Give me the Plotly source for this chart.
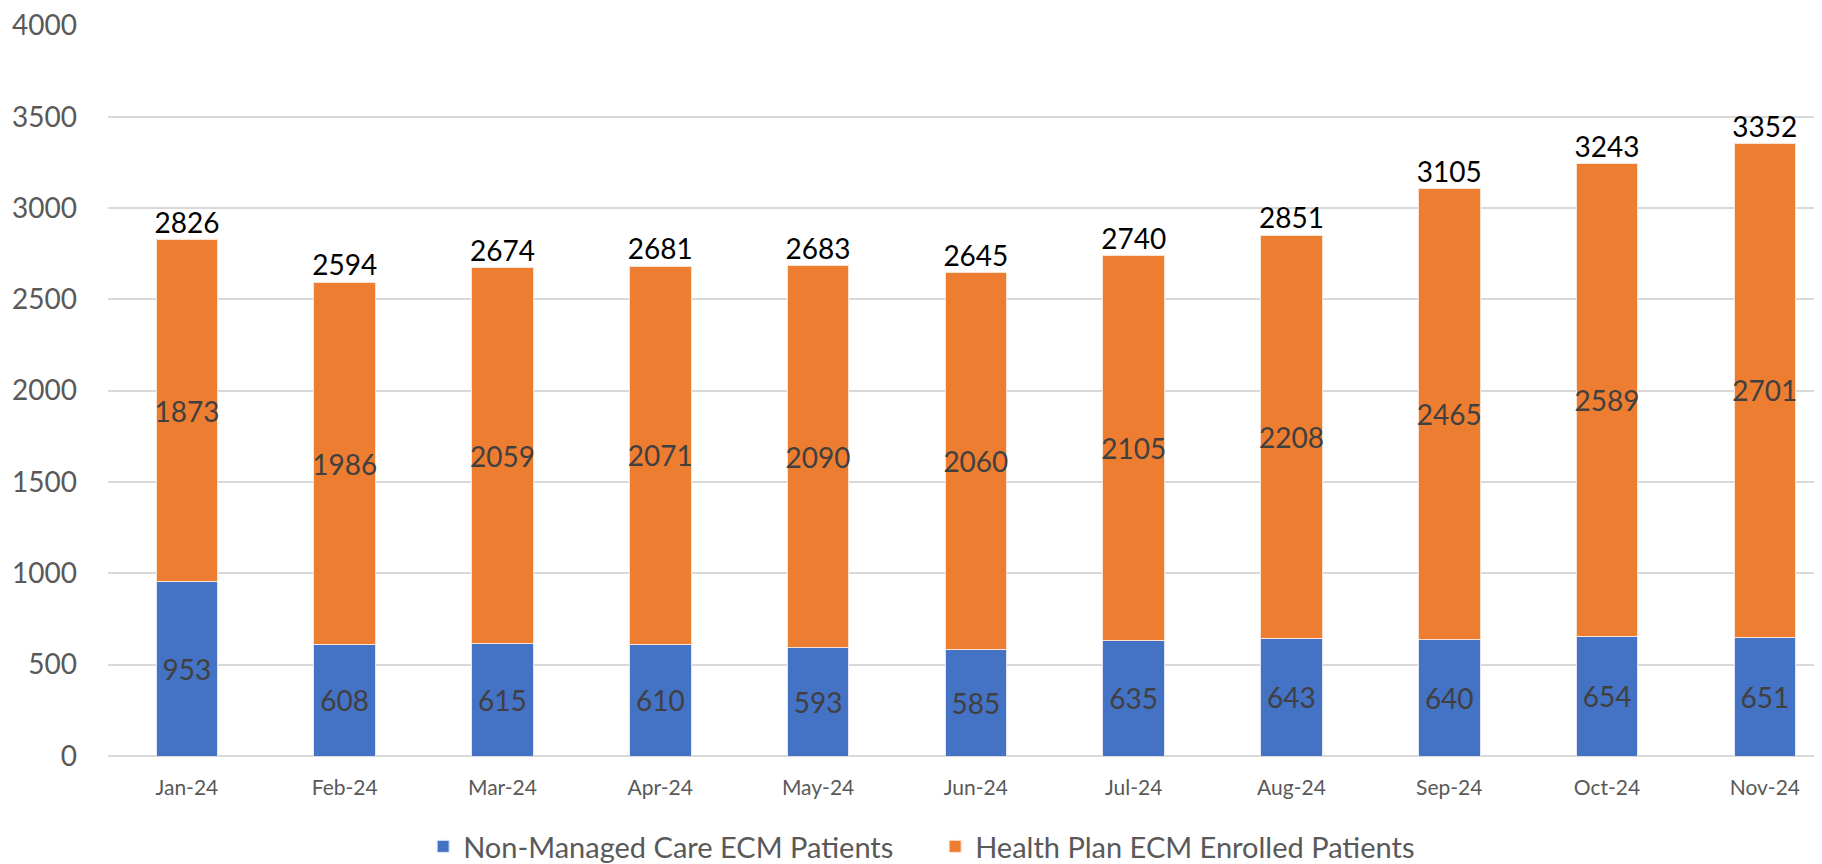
import plotly.graph_objects as go

months = ["Jan-24", "Feb-24", "Mar-24", "Apr-24", "May-24", "Jun-24",
          "Jul-24", "Aug-24", "Sep-24", "Oct-24", "Nov-24"]
non_managed = [953, 608, 615, 610, 593, 585, 635, 643, 640, 654, 651]
health_plan = [1873, 1986, 2059, 2071, 2090, 2060, 2105, 2208, 2465, 2589, 2701]
totals = [2826, 2594, 2674, 2681, 2683, 2645, 2740, 2851, 3105, 3243, 3352]
y_ticks = [0, 500, 1000, 1500, 2000, 2500, 3000, 3500, 4000]

FONT = "Lato, 'Open Sans', sans-serif"
BLUE = "#4472C4"
ORANGE = "#ED7D31"

fig = go.Figure()
fig.add_trace(go.Bar(
    x=months, y=non_managed, name="Non-Managed Care ECM Patients",
    marker=dict(color=BLUE, line=dict(color="#dfe6f5", width=1)),
    text=[str(v) for v in non_managed], textposition="inside",
    insidetextanchor="middle", textangle=0, constraintext="none",
    textfont=dict(family=FONT, size=28, color="#404040"),
))
fig.add_trace(go.Bar(
    x=months, y=health_plan, name="Health Plan ECM Enrolled Patients",
    marker=dict(color=ORANGE, line=dict(color="#fbe3d3", width=1)),
    text=[str(v) for v in health_plan], textposition="inside",
    insidetextanchor="middle", textangle=0, constraintext="none",
    textfont=dict(family=FONT, size=28, color="#404040"),
))
fig.add_trace(go.Scatter(
    x=months, y=totals, mode="text", text=[str(v) for v in totals],
    textposition="top center", showlegend=False, hoverinfo="skip",
    textfont=dict(family=FONT, size=28, color="#000000"),
))

fig.update_layout(
    barmode="stack", bargap=0.61,
    width=1822, height=864,
    margin=dict(l=100, r=0, t=17, b=98),
    plot_bgcolor="white", paper_bgcolor="white",
    font=dict(family=FONT, color="#595959"),
    legend=dict(orientation="h", traceorder="normal",
                x=0.183, xanchor="left", y=-0.124, yanchor="middle",
                entrywidth=467,
                font=dict(family=FONT, size=29, color="#595959"),
                itemwidth=30),
    showlegend=True,
)
fig.update_xaxes(
    type="category", range=[-0.5, 10.413], automargin=False,
    showgrid=False, showline=False, ticks="",
    tickfont=dict(family=FONT, size=21, color="#595959"),
    ticklabelstandoff=17,
)
fig.update_yaxes(
    range=[0, 4002], tickvals=y_ticks, automargin=False,
    showgrid=True, gridcolor="#d9d9d9", gridwidth=1.5,
    zeroline=True, zerolinecolor="#d9d9d9", zerolinewidth=1.5,
    showline=False, ticks="", ticklabeloverflow="allow",
    tickfont=dict(family=FONT, size=28, color="#595959"),
    ticklabelstandoff=30,
)

fig.write_html("out.html")
